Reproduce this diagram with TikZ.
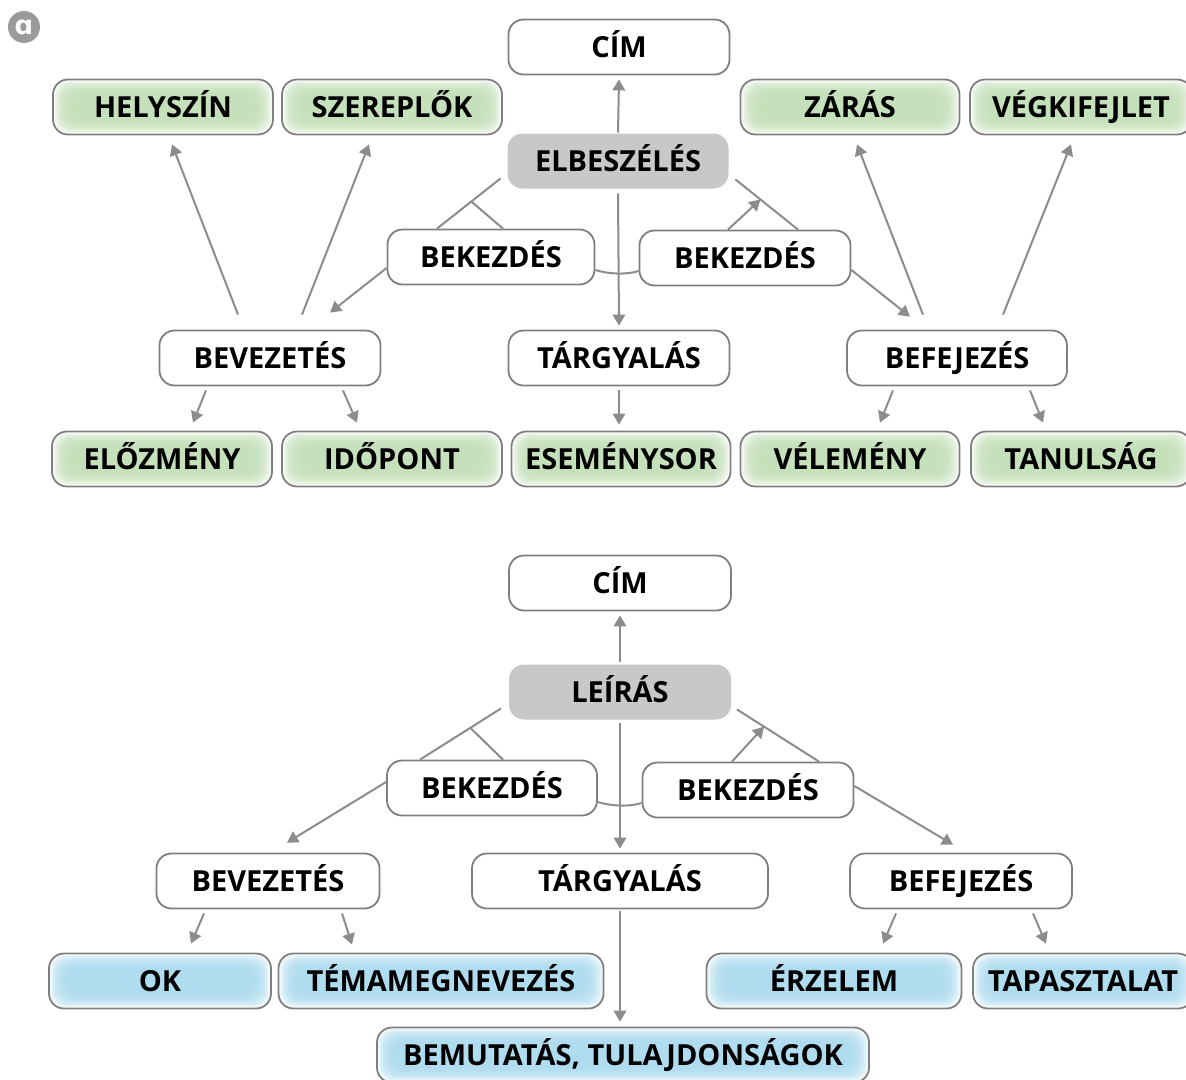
\documentclass[tikz,border=0pt]{standalone}
\usepackage{fontspec}
\setmainfont{Open Sans}
\newfontfamily\dvs{DejaVu Sans}
\usetikzlibrary{arrows.meta,calc}
\definecolor{bord}{HTML}{7F7F7F}
\definecolor{conn}{HTML}{8C8C8C}
\definecolor{grn}{HTML}{C4E1B9}
\definecolor{blu}{HTML}{AEDCF0}
\definecolor{hub}{HTML}{C8C8C8}
\definecolor{lab}{HTML}{9A9A9A}
\tikzset{
  box/.style={draw=bord,line width=1.8pt,rounded corners=15pt,minimum height=55pt,
    inner sep=0pt,text height=20.7pt,text depth=0pt,
    font=\fontsize{29}{29}\selectfont\bfseries,fill=white},
  glow/.style={path picture={
    \foreach \k in {1.2,2.4,...,19.2}{
      \fill[#1,opacity=0.16,rounded corners=14pt]
        ($(path picture bounding box.south west)+(\k,-\k*0.85)$) rectangle
        ($(path picture bounding box.north east)+(-\k,\k*0.85)$);}}},
  gbox/.style={box,glow=grn},
  bbox/.style={box,glow=blu},
  hubbox/.style={box,draw=none,fill=hub},
  ln/.style={draw=conn,line width=2pt},
  arr/.style={ln,-{Triangle[length=11pt,width=12.5pt]}}
}
\begin{document}
\begin{tikzpicture}[x=1pt,y=-1pt]
\useasboundingbox (0,0) rectangle (1186,1079);
\node[circle,fill=lab,minimum size=32pt,inner sep=0pt,text=white,font=\dvs\bfseries\fontsize{26}{26}\selectfont] (lbl) at (24,27) {ɑ};

% ---------- top diagram ----------
\node[box,minimum width=221pt] (CIM1) at (619,47) {CÍM};
\node[gbox,minimum width=220pt] (HELY) at (163,107) {HELYSZÍN};
\node[gbox,minimum width=220pt] (SZER) at (392,107) {SZEREPLŐK};
\node[gbox,minimum width=219pt] (ZAR) at (850,107) {ZÁRÁS};
\node[gbox,minimum width=222pt] (VEG) at (1081,107) {VÉGKIFEJLET};
\node[hubbox,minimum width=221pt] (ELB) at (618,161) {ELBESZÉLÉS};
\node[box,minimum width=207pt] (BK1L) at (491,257) {BEKEZDÉS};
\node[box,minimum width=211pt] (BK1R) at (745,258) {BEKEZDÉS};
\node[box,minimum width=221pt] (BEV1) at (270,358) {BEVEZETÉS};
\node[box,minimum width=221pt] (TAR1) at (619,358) {TÁRGYALÁS};
\node[box,minimum width=220pt] (BEF1) at (957,358) {BEFEJEZÉS};
\node[gbox,minimum width=220pt] (ELO) at (162,459) {ELŐZMÉNY};
\node[gbox,minimum width=220pt] (IDO) at (392,459) {IDŐPONT};
\node[gbox,minimum width=219pt] (ESE) at (621,459) {ESEMÉNYSOR};
\node[gbox,minimum width=219pt] (VEL) at (850,459) {VÉLEMÉNY};
\node[gbox,minimum width=220pt] (TAN) at (1081,459) {TANULSÁG};

\draw[arr] (ELB.north) -- ([yshift=-4pt]CIM1.south);
\draw[arr] ([yshift=-4pt]ELB.south) -- ([yshift=4pt]TAR1.north);
\coordinate (a1) at ([xshift=-6pt,yshift=11pt]ELB.south west);
\coordinate (a2) at ([xshift=-54pt]BK1L.north);
\draw[ln] (a1) -- (a2);
\draw[ln] ($(a1)!0.46!(a2)$) -- ([xshift=12pt]BK1L.north);
\coordinate (b1) at ([xshift=6pt,yshift=10pt]ELB.south east);
\coordinate (b2) at ([xshift=53pt]BK1R.north);
\draw[ln] (b1) -- (b2);
\draw[arr] ([xshift=-17pt]BK1R.north) -- ($(b1)!0.4!(b2)$);
\draw[ln] ([yshift=-13pt]BK1L.east) .. controls +(12,4) and +(-12,4) .. ([yshift=-13pt]BK1R.west);
\draw[arr] ([yshift=-11pt]BK1L.west) -- ([xshift=60pt,yshift=17pt]BEV1.north);
\draw[arr] ([yshift=-12pt]BK1R.east) -- ([xshift=-47pt,yshift=13pt]BEF1.north);
\draw[arr] ([xshift=-32pt,yshift=15pt]BEV1.north) -- ([xshift=9pt,yshift=-9pt]HELY.south);
\draw[arr] ([xshift=32pt,yshift=15pt]BEV1.north) -- ([xshift=-23pt,yshift=-9pt]SZER.south);
\draw[arr] ([xshift=-34pt,yshift=15pt]BEF1.north) -- ([xshift=7pt,yshift=-9pt]ZAR.south);
\draw[arr] ([xshift=46pt,yshift=15pt]BEF1.north) -- ([xshift=-10pt,yshift=-9pt]VEG.south);
\draw[arr] ([xshift=-64pt,yshift=-4pt]BEV1.south) -- ([xshift=31pt,yshift=8pt]ELO.north);
\draw[arr] ([xshift=73pt,yshift=-4pt]BEV1.south) -- ([xshift=-35pt,yshift=8pt]IDO.north);
\draw[arr] ([yshift=-4pt]TAR1.south) -- ($(TAR1.south |- ESE.north)+(0,-6)$);
\draw[arr] ([xshift=-64pt,yshift=-4pt]BEF1.south) -- ([xshift=30pt,yshift=8pt]VEL.north);
\draw[arr] ([xshift=73pt,yshift=-4pt]BEF1.south) -- ([xshift=-38pt,yshift=8pt]TAN.north);

% ---------- bottom diagram ----------
\node[box,minimum width=222pt] (CIM2) at (620,583) {CÍM};
\node[hubbox,minimum width=222pt] (LEI) at (620,692) {LEÍRÁS};
\node[box,minimum width=210pt] (BK2L) at (492,788) {BEKEZDÉS};
\node[box,minimum width=211pt] (BK2R) at (748,790) {BEKEZDÉS};
\node[box,minimum width=223pt] (BEV2) at (268,881) {BEVEZETÉS};
\node[box,minimum width=296pt] (TAR2) at (620,881) {TÁRGYALÁS};
\node[box,minimum width=222pt] (BEF2) at (961,881) {BEFEJEZÉS};
\node[bbox,minimum width=222pt] (OK) at (160,981) {OK};
\node[bbox,minimum width=325pt] (TEM) at (441,981) {TÉMAMEGNEVEZÉS};
\node[bbox,minimum width=255pt] (ERZ) at (834,981) {ÉRZELEM};
\node[bbox,minimum width=220pt] (TAP) at (1083,981) {TAPASZTALAT};
\node[bbox,minimum width=492pt] (BEM) at (623,1055) {BEMUTATÁS, TULAJDONSÁGOK};

\draw[arr] ([yshift=2pt]LEI.north) -- ([yshift=-4pt]CIM2.south);
\draw[arr] ([yshift=-3pt]LEI.south) -- ([yshift=4pt]TAR2.north);
\coordinate (c1) at ([xshift=-7pt,yshift=12pt]LEI.south west);
\coordinate (c2) at ([xshift=-72pt]BK2L.north);
\draw[ln] (c1) -- (c2);
\draw[ln] ($(c1)!0.38!(c2)$) -- ([xshift=11pt]BK2L.north);
\coordinate (d1) at ([xshift=5pt,yshift=11pt]LEI.south east);
\coordinate (d2) at ([xshift=71pt]BK2R.north);
\draw[ln] (d1) -- (d2);
\draw[arr] ([xshift=-16pt]BK2R.north) -- ($(d1)!0.33!(d2)$);
\draw[ln] ([yshift=-14pt]BK2L.east) .. controls +(12,4) and +(-12,4) .. ([yshift=-13pt]BK2R.west);
\draw[arr] ([yshift=6pt]BK2L.west) -- ([xshift=19pt,yshift=10pt]BEV2.north);
\draw[arr] ([yshift=4pt]BK2R.east) -- ([xshift=-8pt,yshift=8pt]BEF2.north);
\draw[arr] ([xshift=-64pt,yshift=-4pt]BEV2.south) -- ([xshift=31pt,yshift=9pt]OK.north);
\draw[arr] ([xshift=74pt,yshift=-4pt]BEV2.south) -- ([xshift=-89pt,yshift=8pt]TEM.north);
\draw[arr] ([yshift=-2pt]TAR2.south) -- ($(TAR2.south |- BEM.north)+(0,-5)$);
\draw[arr] ([xshift=-65pt,yshift=-4pt]BEF2.south) -- ([xshift=49pt,yshift=9pt]ERZ.north);
\draw[arr] ([xshift=72pt,yshift=-4pt]BEF2.south) -- ([xshift=-37pt,yshift=9pt]TAP.north);
\end{tikzpicture}
\end{document}
